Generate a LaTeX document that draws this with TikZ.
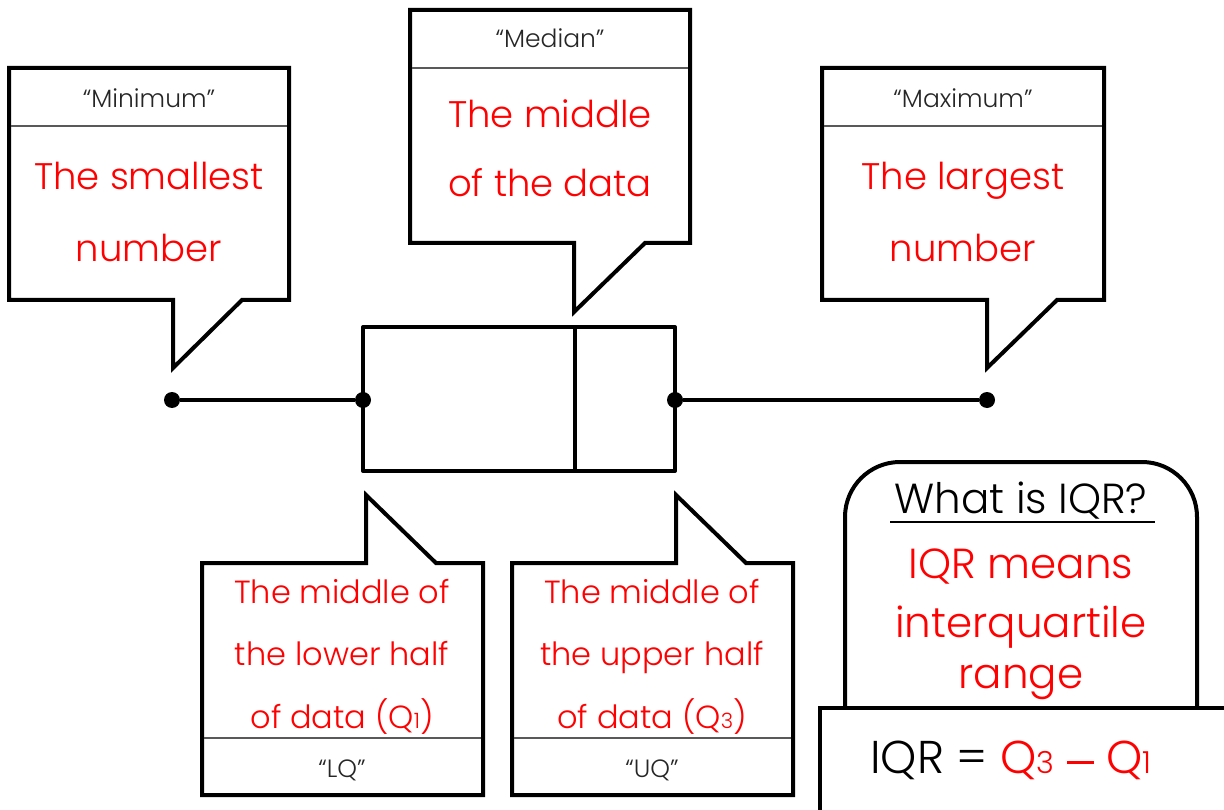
\documentclass[tikz,border=0pt]{standalone}
\usepackage{fontspec}
\setmainfont{Poppins Light}
\newcommand{\qidx}[1]{\scalebox{0.66}{#1}}
\newcommand{\longminus}{\rule[9.5pt]{27pt}{2.2pt}}

\begin{document}
\begin{tikzpicture}[x=1pt,y=-1pt,
  outline/.style={line width=4pt, line join=miter, fill=white},
  divider/.style={line width=1.5pt, draw=black!65},
  bigred/.style={anchor=base, text=red, font=\fontsize{37}{40}\selectfont},
  midred/.style={anchor=base, text=red, font=\fontsize{32}{36}\selectfont},
  iqrtext/.style={anchor=base, font=\fontsize{42}{46}\selectfont},
  header/.style={anchor=base, text=black!85, font=\fontsize{25}{28}\selectfont},
  dot/.style={circle, fill=black, inner sep=0pt, minimum size=16pt},
  plotline/.style={line width=4pt},
]
\clip (0,0) rectangle (1224,810);
\fill[white] (0,0) rectangle (1224,810);

% ---- box plot ----
\node[dot] (dmin) at (172,400) {};
\node[dot] (dq1) at (363,400) {};
\node[dot] (dq3) at (675,400) {};
\node[dot] (dmax) at (987,400) {};
\coordinate (btl) at (363,327);
\coordinate (bbr) at (675,471);
\coordinate (medtop) at (575,327);
\coordinate (medbot) at (575,471);
\draw[plotline, line join=round] (btl) rectangle (bbr);
\draw[plotline] (medtop) -- (medbot);
\draw[plotline] (dmin) -- (dq1);
\draw[plotline] (dq3) -- (dmax);

% ---- minimum callout ----
\draw[outline] (9,68) -- (289,68) -- (289,300) -- (242,300) -- (173,368)
  -- (173,300) -- (9,300) -- cycle;
\draw[divider] (11,126) -- (287,126);
\node[header] (minhead) at (149,108) {“Minimum”};
\node[bigred] (minA) at (149,190) {The smallest};
\node[bigred] (minB) at (149,262) {number};

% ---- median callout ----
\draw[outline] (410,10) -- (690,10) -- (690,243) -- (645,243) -- (574,312)
  -- (574,243) -- (410,243) -- cycle;
\draw[divider] (412,68) -- (688,68);
\node[header] (medhead) at (550,48) {“Median”};
\node[bigred] (medA) at (550,128) {The middle};
\node[bigred] (medB) at (550,197) {of the data};

% ---- maximum callout ----
\draw[outline] (822,68) -- (1104,68) -- (1104,300) -- (1057,300) -- (987,368)
  -- (987,300) -- (822,300) -- cycle;
\draw[divider] (824,126) -- (1102,126);
\node[header] (maxhead) at (963,108) {“Maximum”};
\node[bigred] (maxA) at (963,190) {The largest};
\node[bigred] (maxB) at (963,262) {number};

% ---- lower quartile callout ----
\draw[outline] (202,563) -- (366,563) -- (366,495) -- (436,563) -- (483,563)
  -- (483,795) -- (202,795) -- cycle;
\draw[divider] (204,738) -- (481,738);
\node[midred] (lqA) at (342,603) {The middle of};
\node[midred] (lqB) at (342,665) {the lower half};
\node[midred] (lqC) at (342,728) {of data (Q\qidx{1})};
\node[header] (lqhead) at (342,777) {“LQ”};

% ---- upper quartile callout ----
\draw[outline] (512,563) -- (676,563) -- (676,495) -- (746,563) -- (793,563)
  -- (793,795) -- (512,795) -- cycle;
\draw[divider] (514,738) -- (791,738);
\node[midred] (uqA) at (652,603) {The middle of};
\node[midred] (uqB) at (652,665) {the upper half};
\node[midred] (uqC) at (652,728) {of data (Q\qidx{3})};
\node[header] (uqhead) at (652,777) {“UQ”};

% ---- IQR panel ----
\draw[line width=4pt, fill=white, rounded corners=55pt] (845,760) -- (845,462)
  -- (1197,462) -- (1197,760);
\node[iqrtext] (iqrq) at (1021,513) {What is IQR?};
\draw[line width=2.5pt] (890,522) -- (1155,522);
\node[iqrtext, text=red] (iqrA) at (1021,578) {IQR means};
\node[iqrtext, text=red] (iqrB) at (1021,637) {interquartile};
\node[iqrtext, text=red] (iqrC) at (1021,688) {range};

\draw[line width=3.5pt, fill=white] (820,708) rectangle (1240,830);
\node[iqrtext, font=\fontsize{46}{50}\selectfont] (formula) at (1011,773)
  {IQR = \textcolor{red}{Q\qidx{3} \longminus{} Q\qidx{1}}};
\end{tikzpicture}
\end{document}
